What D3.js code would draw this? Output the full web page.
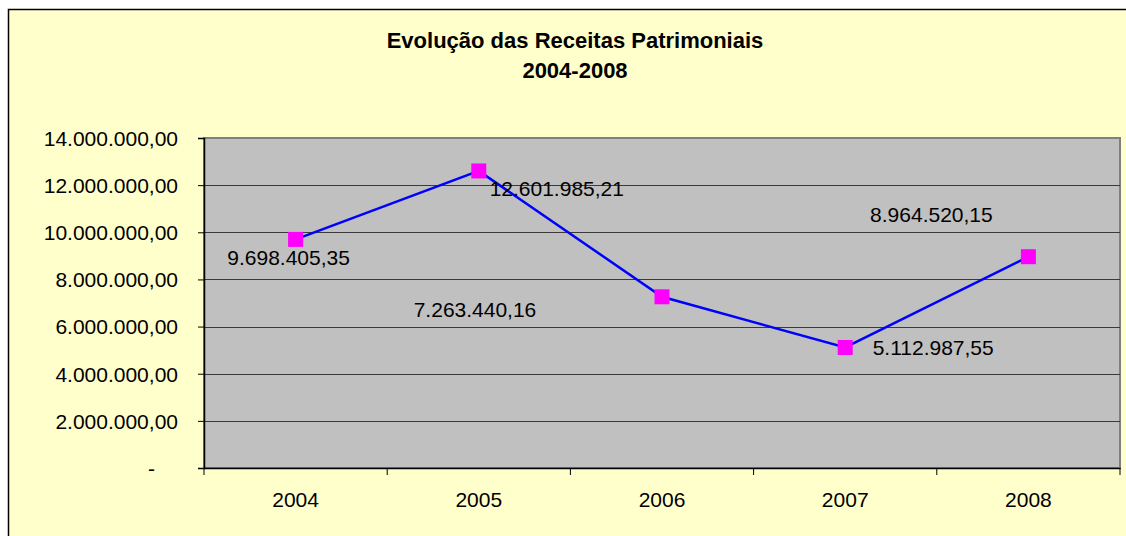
<!DOCTYPE html>
<html>
<head>
<meta charset="utf-8">
<script src="https://cdn.jsdelivr.net/npm/d3@7"></script>
<style>
  body { margin: 0; background: #fff; }
  svg text { font-family: Arial, "Liberation Sans", sans-serif; fill: #000; }
</style>
</head>
<body>
<div id="chart"></div>
<script>
// Dados
var years = ["2004", "2005", "2006", "2007", "2008"];
var receitas = [9698405.35, 12601985.21, 7263440.16, 5112987.55, 8964520.15];
var yTicks = [0, 2000000, 4000000, 6000000, 8000000, 10000000, 12000000, 14000000];
var titleLines = ["Evolução das Receitas Patrimoniais", "2004-2008"];

// label offsets (moved by hand in the original)
var labelOffsets = [[-7, 26], [78, 25], [-187, 20], [88, 8], [-97, -35]];

var width = 1126, height = 536;
var plot = {left: 204, right: 1120, top: 138, bottom: 468};

var ptBR = d3.formatLocale({decimal: ",", thousands: ".", grouping: [3], currency: ["R$", ""]});
var fmt = ptBR.format(",.2f");

var svg = d3.select("#chart").append("svg")
    .attr("width", width)
    .attr("height", height);

// chart area
svg.append("rect")
    .attr("x", 8.5).attr("y", 9.5)
    .attr("width", 1160).attr("height", 560)
    .style("fill", "#FFFFCC")
    .style("stroke", "#000")
    .style("stroke-width", 1.5);

// titulo
svg.append("text")
    .attr("x", 575)
    .attr("text-anchor", "middle")
    .style("font-size", "22px")
    .style("font-weight", "bold")
    .selectAll("tspan")
    .data(titleLines)
    .enter().append("tspan")
    .attr("x", 575)
    .attr("y", function (d, i) { return 48 + i * 30; })
    .text(function (d) { return d; });

var x = d3.scaleBand()
    .domain(years)
    .range([plot.left, plot.right])
    .padding(0);

var y = d3.scaleLinear()
    .domain([0, 14000000])
    .range([plot.bottom, plot.top]);

// plot area
svg.append("rect")
    .attr("x", plot.left).attr("y", plot.top)
    .attr("width", plot.right - plot.left).attr("height", plot.bottom - plot.top)
    .style("fill", "#C0C0C0")
    .style("stroke", "#808080")
    .style("stroke-width", 2);

// grid
svg.append("g")
    .selectAll("line")
    .data(yTicks.filter(function (d) { return d > 0 && d < 14000000; }))
    .enter().append("line")
    .attr("x1", plot.left).attr("x2", plot.right)
    .attr("y1", function (d) { return Math.round(y(d)) + 0.5; })
    .attr("y2", function (d) { return Math.round(y(d)) + 0.5; })
    .style("stroke", "#3a3a3a")
    .style("stroke-width", 1);

// eixo y
var yAxis = svg.append("g")
    .attr("transform", "translate(" + plot.left + ",0)")
    .call(d3.axisLeft(y)
        .tickValues(yTicks)
        .tickSize(6)
        .tickPadding(20)
        .tickFormat(function (d) { return d === 0 ? "-" : fmt(d); }));
yAxis.select(".domain").style("stroke", "#000").style("stroke-width", 1.5);
yAxis.selectAll(".tick line").style("stroke", "#000");
yAxis.selectAll(".tick text")
    .style("font-size", "21px")
    .attr("font-family", null)
    .attr("dy", "0.35em");
yAxis.selectAll(".tick text").filter(function (d) { return d === 0; })
    .attr("dx", -23);
yAxis.attr("font-family", null).attr("font-size", null);

// eixo x
var xAxis = svg.append("g")
    .attr("transform", "translate(0," + plot.bottom + ")")
    .call(d3.axisBottom(x).tickSize(0).tickPadding(24));
xAxis.attr("font-family", null).attr("font-size", null);
xAxis.select(".domain").style("stroke", "#000").style("stroke-width", 1.5);
xAxis.selectAll(".tick text").style("font-size", "21px");

// marcas entre categorias
svg.append("g")
    .selectAll("line")
    .data(years.concat(["end"]))
    .enter().append("line")
    .attr("x1", function (d, i) { return i < years.length ? x(d) : x(years[years.length - 1]) + x.bandwidth(); })
    .attr("x2", function (d, i) { return i < years.length ? x(d) : x(years[years.length - 1]) + x.bandwidth(); })
    .attr("y1", plot.bottom)
    .attr("y2", plot.bottom + 7)
    .style("stroke", "#000");

// linha
var line = d3.line()
    .x(function (d, i) { return x(years[i]) + x.bandwidth() / 2; })
    .y(function (d) { return y(d); });

svg.append("path")
    .datum(receitas)
    .attr("d", line)
    .style("fill", "none")
    .style("stroke", "#0000FF")
    .style("stroke-width", 2.5);

// marcadores
svg.append("g")
    .selectAll("rect")
    .data(receitas)
    .enter().append("rect")
    .attr("x", function (d, i) { return x(years[i]) + x.bandwidth() / 2 - 7.5; })
    .attr("y", function (d) { return y(d) - 7.5; })
    .attr("width", 15).attr("height", 15)
    .style("fill", "#FF00FF");

// rotulos
svg.append("g")
    .selectAll("text")
    .data(receitas)
    .enter().append("text")
    .attr("x", function (d, i) { return x(years[i]) + x.bandwidth() / 2 + labelOffsets[i][0]; })
    .attr("y", function (d, i) { return y(d) + labelOffsets[i][1]; })
    .attr("text-anchor", "middle")
    .style("font-size", "21px")
    .text(function (d) { return fmt(d); });
</script>
</body>
</html>
